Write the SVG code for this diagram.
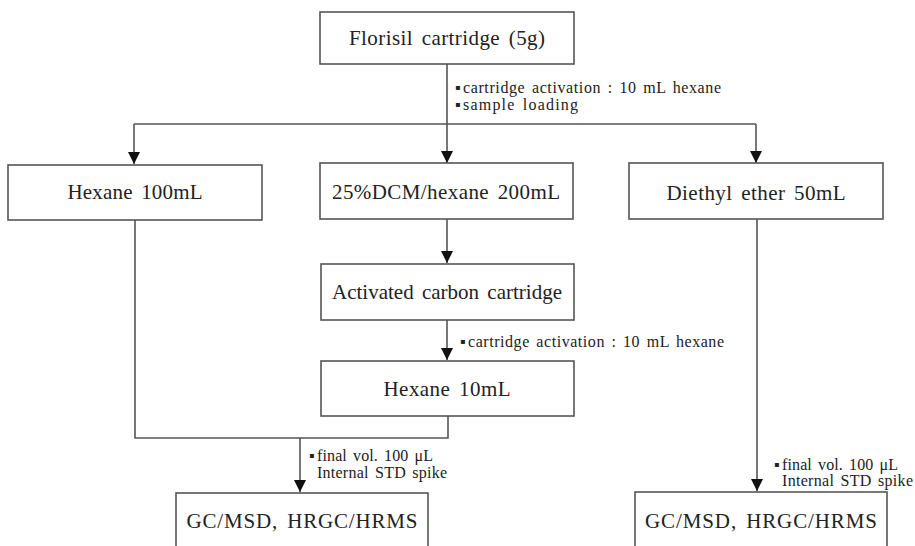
<svg xmlns="http://www.w3.org/2000/svg" width="915" height="546" viewBox="0 0 915 546">
<defs>
<style>
.box{fill:#fff;stroke:#555;stroke-width:1.6}
.lbl{font-family:"Liberation Serif","Times New Roman",serif;font-size:21px;fill:#222;text-anchor:middle;word-spacing:3px}
.note{font-family:"Liberation Serif","Times New Roman",serif;font-size:16px;fill:#222;word-spacing:2px}
.ln{fill:none;stroke:#555;stroke-width:1.6}
.bul{font-family:"DejaVu Sans",sans-serif;font-size:8px;fill:#222}
</style>
<marker id="ah" viewBox="0 0 12 12" refX="12" refY="6" markerWidth="12" markerHeight="12" markerUnits="userSpaceOnUse" orient="auto">
<path d="M0,0 L12,6 L0,12 Z" fill="#111"/>
</marker>
</defs>
<rect width="915" height="546" fill="#fff"/>
<g id="connectors">
<line class="ln" x1="447" y1="64" x2="447" y2="124"/>
<line class="ln" x1="134" y1="124" x2="756" y2="124"/>
<line class="ln" x1="134" y1="124" x2="134" y2="164" marker-end="url(#ah)"/>
<line class="ln" x1="447" y1="124" x2="447" y2="163" marker-end="url(#ah)"/>
<line class="ln" x1="756" y1="124" x2="756" y2="163" marker-end="url(#ah)"/>
<line class="ln" x1="447" y1="219" x2="447" y2="263" marker-end="url(#ah)"/>
<line class="ln" x1="447" y1="320" x2="447" y2="360" marker-end="url(#ah)"/>
<polyline class="ln" points="135,220 135,438 448,438 448,416"/>
<line class="ln" x1="300" y1="438" x2="300" y2="492" marker-end="url(#ah)"/>
<line class="ln" x1="757" y1="219" x2="757" y2="491" marker-end="url(#ah)"/>
<text class="note" y="93"><tspan class="bul" x="455" dy="-3">▪</tspan><tspan x="463" dy="3" textLength="258" lengthAdjust="spacing">cartridge activation : 10 mL hexane</tspan></text>
<text class="note" y="110"><tspan class="bul" x="455" dy="-3">▪</tspan><tspan x="463" dy="3" textLength="115" lengthAdjust="spacing">sample loading</tspan></text>
<text class="note" y="347"><tspan class="bul" x="460" dy="-3">▪</tspan><tspan x="468" dy="3" textLength="256" lengthAdjust="spacing">cartridge activation  : 10 mL hexane</tspan></text>
<text class="note" y="461"><tspan class="bul" x="309" dy="-3">▪</tspan><tspan x="317" dy="3" textLength="116" lengthAdjust="spacing">final vol. 100 μL</tspan></text>
<text class="note" x="317" y="478" textLength="130" lengthAdjust="spacing">Internal STD spike</text>
<text class="note" y="470"><tspan class="bul" x="774" dy="-3">▪</tspan><tspan x="782" dy="3" textLength="116" lengthAdjust="spacing">final vol. 100 μL</tspan></text>
<text class="note" x="782" y="486" textLength="131" lengthAdjust="spacing">Internal STD spike</text>
</g>
<g id="florisil">
<rect class="box" x="320" y="12" width="254" height="52"/>
<text class="lbl" x="447" y="45" textLength="196" lengthAdjust="spacing">Florisil cartridge (5g)</text>
</g>
<g id="hexane100">
<rect class="box" x="8" y="165" width="254" height="55"/>
<text class="lbl" x="135" y="199" textLength="135" lengthAdjust="spacing">Hexane 100mL</text>
</g>
<g id="dcm">
<rect class="box" x="320" y="163" width="253" height="56"/>
<text class="lbl" x="446" y="199" textLength="228" lengthAdjust="spacing">25%DCM/hexane 200mL</text>
</g>
<g id="diethyl">
<rect class="box" x="629" y="163" width="254" height="56"/>
<text class="lbl" x="756" y="200" textLength="179" lengthAdjust="spacing">Diethyl ether 50mL</text>
</g>
<g id="carbon">
<rect class="box" x="321" y="264" width="253" height="56"/>
<text class="lbl" x="447" y="299" textLength="230" lengthAdjust="spacing">Activated carbon cartridge</text>
</g>
<g id="hexane10">
<rect class="box" x="321" y="361" width="253" height="55"/>
<text class="lbl" x="447" y="396" textLength="127" lengthAdjust="spacing">Hexane 10mL</text>
</g>
<g id="gc1">
<rect class="box" x="176" y="493" width="252" height="70"/>
<text class="lbl" x="302" y="528" textLength="231" lengthAdjust="spacing">GC/MSD, HRGC/HRMS</text>
</g>
<g id="gc2">
<rect class="box" x="635" y="492" width="252" height="70"/>
<text class="lbl" x="761" y="528" textLength="232" lengthAdjust="spacing">GC/MSD, HRGC/HRMS</text>
</g>
</svg>
